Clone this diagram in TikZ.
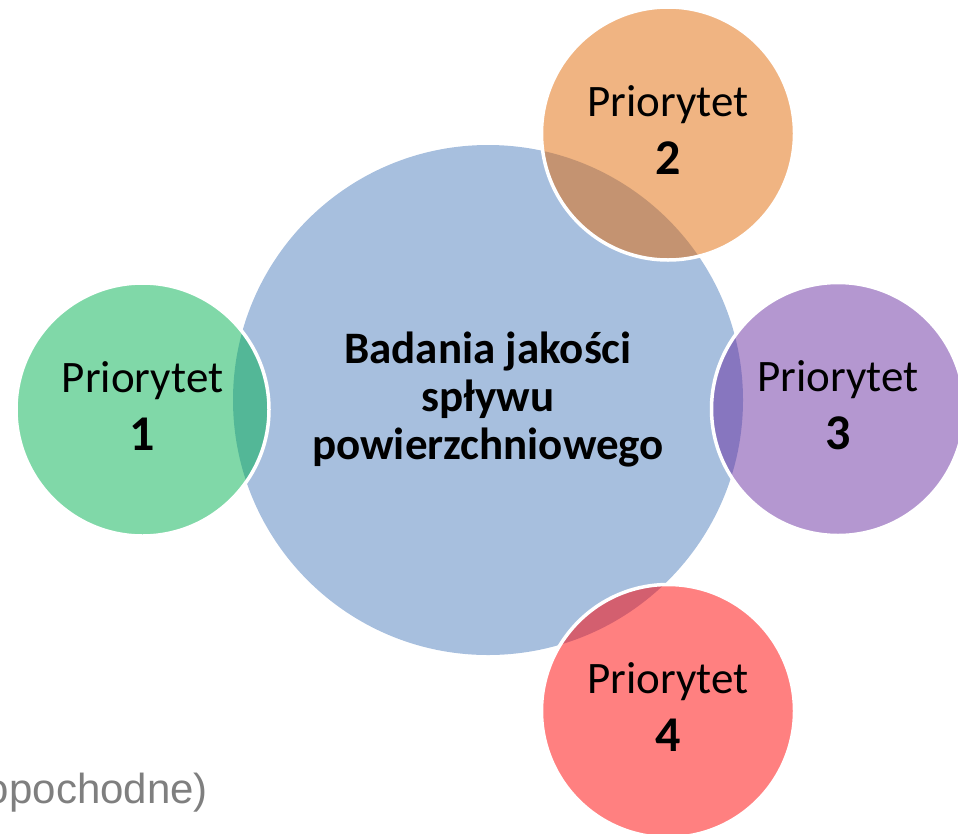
\documentclass[tikz,border=0pt]{standalone}
\usepackage{fontspec}
\setmainfont{Carlito}
\newfontfamily\graysans{Liberation Sans}
\definecolor{bigblue}{RGB}{167,191,222}
\definecolor{cgreen}{RGB}{1,177,81}
\definecolor{corange}{RGB}{225,105,5}
\definecolor{cpurple}{RGB}{105,47,161}
\definecolor{cred}{RGB}{255,1,1}
\definecolor{notegray}{RGB}{127,127,127}
\begin{document}
\begin{tikzpicture}[x=1pt,y=-1pt,
  bigc/.style={circle,fill=bigblue,draw=none,minimum size=510pt,inner sep=0pt},
  smallc/.style={circle,fill=#1,fill opacity=0.5,draw=white,draw opacity=1,
    line width=3.5pt,minimum size=253pt,inner sep=0pt},
  prio/.style={anchor=base,inner sep=0pt,font=\fontsize{45}{50}\selectfont},
  prionum/.style={anchor=base,inner sep=0pt,font=\fontsize{50}{56}\selectfont\bfseries},
  centertext/.style={anchor=base,inner sep=0pt,font=\fontsize{45}{48}\selectfont\bfseries}]
\useasboundingbox (0,0) rectangle (958,833);
\clip (0,0) rectangle (958,833);
\node[bigc] (main) at (488,400) {};
\node[smallc=cgreen] (p1) at (142.5,409.5) {};
\node[smallc=corange] (p2) at (668,133.5) {};
\node[smallc=cpurple] (p3) at (838,409) {};
\node[smallc=cred] (p4) at (668,711) {};
\node[centertext] (m1) at ([yshift=37pt]main.center) {Badania jakości};
\node[centertext] (m2) at ([yshift=-11pt]main.center) {spływu};
\node[centertext] (m3) at ([yshift=-59pt]main.center) {powierzchniowego};
\foreach \n/\d in {p1/1,p2/2,p3/3,p4/4}{
  \node[prio] (\n t) at ([yshift=17.5pt]\n.center) {Priorytet};
  \node[prionum] (\n n) at ([yshift=-40.5pt]\n.center) {\d};
}
\node[anchor=base east,inner sep=0pt,text=notegray,font=\graysans\fontsize{42}{48}\selectfont] (note) at (208,803) {opochodne)};
\end{tikzpicture}
\end{document}
